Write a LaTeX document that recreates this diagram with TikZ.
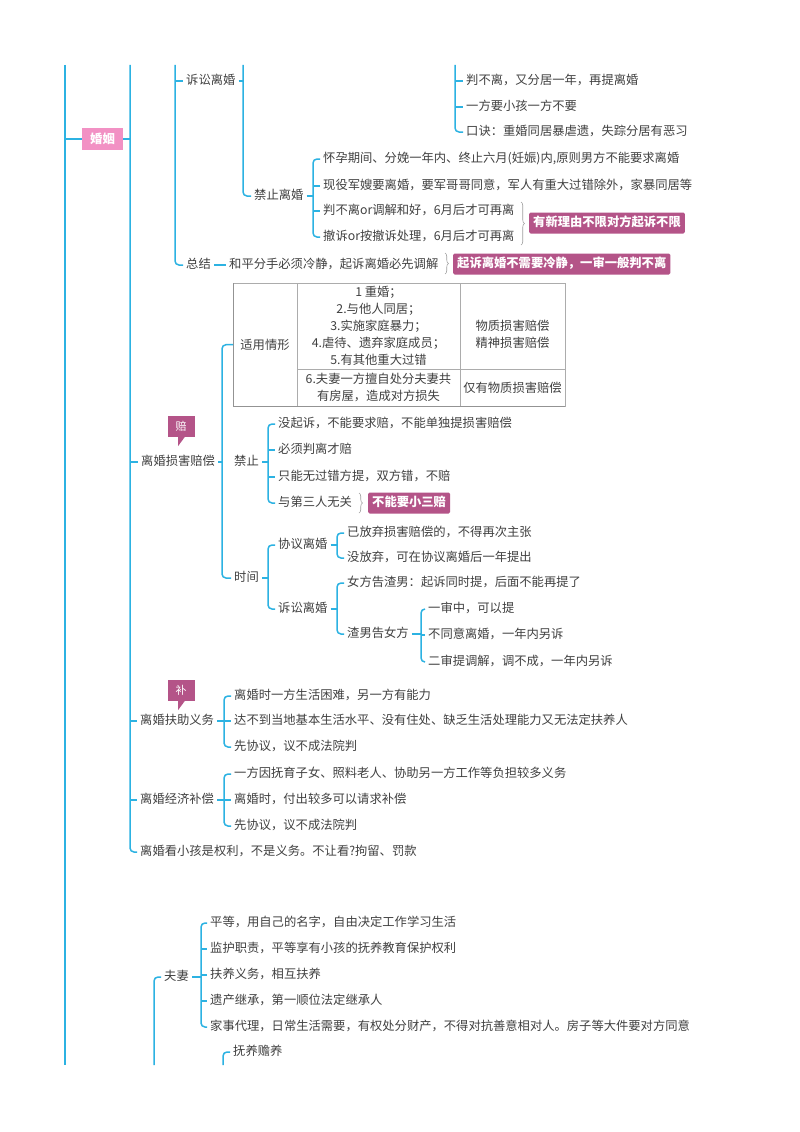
\documentclass[tikz,border=0pt]{standalone}
\usepackage{fontspec}
\setmainfont{Noto Sans CJK SC}
\usetikzlibrary{calc,decorations.pathreplacing}
\definecolor{lineblue}{RGB}{44,178,226}
\definecolor{txt}{RGB}{64,64,64}
\definecolor{pinkbox}{RGB}{242,145,196}
\definecolor{mauve}{RGB}{180,84,136}
\begin{document}
\begin{tikzpicture}[x=1pt,y=-1pt,
  every node/.style={font=\fontsize{12.3}{14}\selectfont, text=txt},
  t/.style={anchor=west, inner xsep=3pt, inner ysep=1pt, text height=9pt, text depth=2.5pt},
  conn/.style={draw=lineblue, line width=1.5pt, rounded corners=4pt},
  tag/.style={anchor=west, fill=mauve, text=white, rounded corners=1.5pt, inner xsep=4pt, inner ysep=0pt,
    minimum height=21pt, text height=9pt, text depth=2.5pt, font=\fontsize{12.3}{14}\selectfont\bfseries},
  callout/.style={fill=mauve, text=white, minimum width=27pt, minimum height=21pt, inner sep=0pt,
    font=\fontsize{11}{12}\selectfont},
  br/.style={draw=gray!75, line width=0.6pt, decorate, decoration={brace, amplitude=3.5pt}},
  tline/.style={draw=gray!65, line width=0.8pt},
  cell/.style={align=center, font=\fontsize{12.3}{17}\selectfont, inner sep=0pt},
]
\useasboundingbox (0,0) rectangle (800,1132);
\fill[white] (0,0) rectangle (800,1132);

% ---------- nodes ----------
\node[fill=pinkbox, text=white, minimum width=41pt, minimum height=22pt, inner sep=0pt,
  font=\fontsize{12.3}{14}\selectfont\bfseries] (hy) at (102.5,139) {婚姻};

\node[t] (sus1) at (183,81) {诉讼离婚};
\node[t] (p1) at (463,81) {判不离，又分居一年，再提离婚};
\node[t] (p2) at (463,107) {一方要小孩一方不要};
\node[t] (p3) at (463,132) {口诀：重婚同居暴虐遗，失踪分居有恶习};
\node[t] (jzlh) at (251,196) {禁止离婚};
\node[t] (j1) at (320,159) {怀孕期间、分娩一年内、终止六月(妊娠)内,原则男方不能要求离婚};
\node[t] (j2) at (320,186) {现役军嫂要离婚，要军哥哥同意，军人有重大过错除外，家暴同居等};
\node[t] (j3) at (320,211) {判不离or调解和好，6月后才可再离};
\node[t] (j4) at (320,237) {撤诉or按撤诉处理，6月后才可再离};
\node[tag] (tag1) at (529,223) {有新理由不限对方起诉不限};
\node[t] (zj) at (183,265) {总结};
\node[t] (hp) at (226,265) {和平分手必须冷静，起诉离婚必先调解};
\node[tag] (tag2) at (453,264) {起诉离婚不需要冷静，一审一般判不离};

% table
\node[anchor=north west, minimum width=332pt, minimum height=123pt, inner sep=0pt] (tbl) at (233,283) {};
\draw[tline] (233,283) rectangle (565,406);
\draw[tline] (297,283) -- (297,406);
\draw[tline] (460,283) -- (460,406);
\draw[tline] (297,369) -- (565,369);
\draw[draw=gray!85, line width=0.9pt] (233,283) -- (233,406) -- (565,406);
\node[cell] (tc1) at (265,345) {适用情形};
\node[cell] (tc2) at (378.5,325.5) {1 重婚；\\2.与他人同居；\\3.实施家庭暴力；\\4.虐待、遗弃家庭成员；\\5.有其他重大过错};
\node[cell] (tc3) at (512.5,334.5) {物质损害赔偿\\精神损害赔偿};
\node[cell] (tc4) at (378.5,387.5) {6.夫妻一方擅自处分夫妻共\\有房屋，造成对方损失};
\node[cell] (tc5) at (512.5,387.5) {仅有物质损害赔偿};

\node[t] (shpc) at (138,462) {离婚损害赔偿};
\node[callout] (pei) at (181,426.5) {赔};
\node[t] (jz) at (231,462) {禁止};
\node[t] (b1) at (275,424) {没起诉，不能要求赔，不能单独提损害赔偿};
\node[t] (b2) at (275,450) {必须判离才赔};
\node[t] (b3) at (275,477) {只能无过错方提，双方错，不赔};
\node[t] (b4) at (275,503) {与第三人无关};
\node[tag] (tag3) at (368,503) {不能要小三赔};
\node[t] (sj) at (231,578) {时间};
\node[t] (xy) at (275,545) {协议离婚};
\node[t] (x1) at (344,533) {已放弃损害赔偿的，不得再次主张};
\node[t] (x2) at (344,558) {没放弃，可在协议离婚后一年提出};
\node[t] (ss2) at (275,609) {诉讼离婚};
\node[t] (s1) at (344,583) {女方告渣男：起诉同时提，后面不能再提了};
\node[t] (zn) at (344,634) {渣男告女方};
\node[t] (z1) at (425,609) {一审中，可以提};
\node[t] (z2) at (425,635) {不同意离婚，一年内另诉};
\node[t] (z3) at (425,662) {二审提调解，调不成，一年内另诉};

\node[callout] (bu) at (181,690.5) {补};
\node[t] (fz) at (137,721) {离婚扶助义务};
\node[t] (f1) at (231,696) {离婚时一方生活困难，另一方有能力};
\node[t] (f2) at (231,721) {达不到当地基本生活水平、没有住处、缺乏生活处理能力又无法定扶养人};
\node[t] (f3) at (231,747) {先协议，议不成法院判};
\node[t] (jj) at (137,800) {离婚经济补偿};
\node[t] (e1) at (231,774) {一方因抚育子女、照料老人、协助另一方工作等负担较多义务};
\node[t] (e2) at (231,800) {离婚时，付出较多可以请求补偿};
\node[t] (e3) at (231,826) {先协议，议不成法院判};
\node[t] (kx) at (137,852) {离婚看小孩是权利，不是义务。不让看?拘留、罚款};

\node[t] (fq) at (161,977) {夫妻};
\node[t] (q1) at (207,923) {平等，用自己的名字，自由决定工作学习生活};
\node[t] (q2) at (207,949) {监护职责，平等享有小孩的抚养教育保护权利};
\node[t] (q3) at (207,975) {扶养义务，相互扶养};
\node[t] (q4) at (207,1001) {遗产继承，第一顺位法定继承人};
\node[t] (q5) at (207,1027) {家事代理，日常生活需要，有权处分财产，不得对抗善意相对人。房子等大件要对方同意};
\node[t] (fy) at (230,1052) {抚养赡养};

% callout pointers
\fill[mauve] ($(pei.south)+(-3,-0.5)$) -- ($(pei.south)+(4,-0.5)$) -- ($(pei.south)+(-3,9)$) -- cycle;
\fill[mauve] ($(bu.south)+(-3,-0.5)$) -- ($(bu.south)+(4,-0.5)$) -- ($(bu.south)+(-3,9)$) -- cycle;

% braces
\draw[br] (521,202) -- (521,245);
\draw[br] (445,253) -- (445,274);
\draw[br] (359,493) -- (359,513);

% ---------- connectors ----------
\draw[conn] (65,65) -- (65,1065);
\draw[conn] (65,0 |- hy.west) -- (hy.west);
\draw[conn] (hy.east) -- (130,0 |- hy.east);
\draw[conn] (130,65) |- (kx.west);
\draw[conn] (130,0 |- shpc.west) -- (shpc.west);
\draw[conn] (130,0 |- fz.west) -- (fz.west);
\draw[conn] (130,0 |- jj.west) -- (jj.west);

\draw[conn] (175,65) |- (zj.west);
\draw[conn] (175,0 |- sus1.west) -- (sus1.west);
\draw[conn] (sus1.east) -- (243,0 |- sus1.east);
\draw[conn] (243,65) |- (jzlh.west);
\draw[conn] (455,65) |- (p3.west);
\draw[conn] (455,0 |- p1.west) -- (p1.west);
\draw[conn] (455,0 |- p2.west) -- (p2.west);
\draw[conn] (jzlh.east) -- (313,0 |- jzlh.east);
\draw[conn] (j1.west) -| (313,0 |- j4.west) -- (j4.west);
\draw[conn] (313,0 |- j2.west) -- (j2.west);
\draw[conn] (313,0 |- j3.west) -- (j3.west);
\draw[conn] (zj.east) -- (hp.west);

\draw[conn] (tbl.west) -| (222,0 |- sj.west) -- (sj.west);
\draw[conn] (shpc.east) -- (222,0 |- shpc.east);
\draw[conn] (jz.east) -- (268,0 |- jz.east);
\draw[conn] (b1.west) -| (268,0 |- b4.west) -- (b4.west);
\draw[conn] (268,0 |- b2.west) -- (b2.west);
\draw[conn] (268,0 |- b3.west) -- (b3.west);
\draw[conn] (sj.east) -- (268,0 |- sj.east);
\draw[conn] (xy.west) -| (268,0 |- ss2.west) -- (ss2.west);
\draw[conn] (xy.east) -- (337,0 |- xy.east);
\draw[conn] (x1.west) -| (337,0 |- x2.west) -- (x2.west);
\draw[conn] (ss2.east) -- (337,0 |- ss2.east);
\draw[conn] (s1.west) -| (337,0 |- zn.west) -- (zn.west);
\draw[conn] (zn.east) -- (421,0 |- zn.east);
\draw[conn] (z1.west) -| (421,0 |- z3.west) -- (z3.west);
\draw[conn] (421,0 |- z2.west) -- (z2.west);

\draw[conn] (fz.east) -- (224,0 |- fz.east);
\draw[conn] (f1.west) -| (224,0 |- f3.west) -- (f3.west);
\draw[conn] (224,0 |- f2.west) -- (f2.west);
\draw[conn] (jj.east) -- (224,0 |- jj.east);
\draw[conn] (e1.west) -| (224,0 |- e3.west) -- (e3.west);
\draw[conn] (224,0 |- e2.west) -- (e2.west);

\draw[conn] (fq.west) -| (154,1065);
\draw[conn] (fq.east) -- (201,0 |- fq.east);
\draw[conn] (q1.west) -| (201,0 |- q5.west) -- (q5.west);
\draw[conn] (201,0 |- q2.west) -- (q2.west);
\draw[conn] (201,0 |- q3.west) -- (q3.west);
\draw[conn] (201,0 |- q4.west) -- (q4.west);
\draw[conn] (fy.west) -| (223,1065);
\end{tikzpicture}
\end{document}
